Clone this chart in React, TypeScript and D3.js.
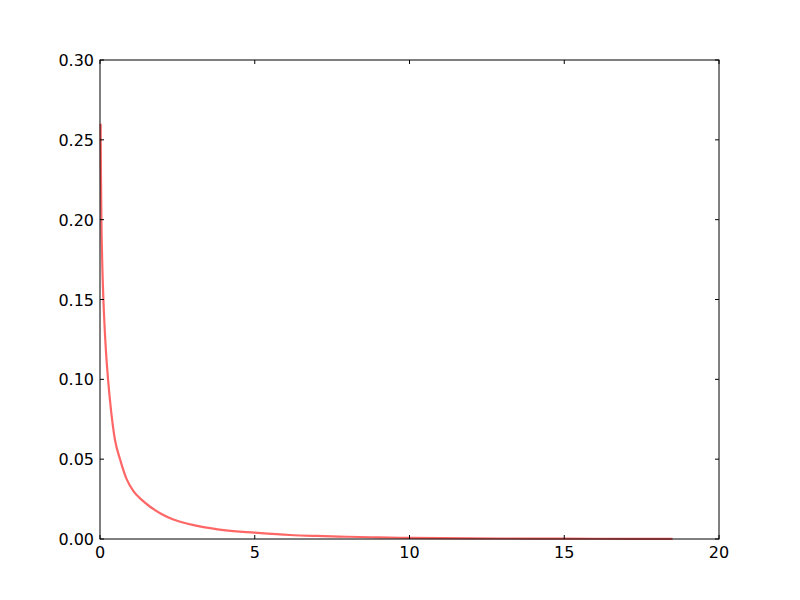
import React from "react";
import * as d3 from "d3";

const xs = [0.02, 0.03, 0.045, 0.07, 0.11, 0.17, 0.26, 0.36, 0.485, 0.646, 0.85, 1.08, 1.35, 1.62, 2.0, 2.37, 2.8, 3.3, 4.0, 5.0, 6.14, 7.0, 8.0, 9.0, 10, 12, 14, 16, 18.5];
const ys = [0.26, 0.23, 0.2, 0.175, 0.15, 0.125, 0.1, 0.08, 0.062, 0.05, 0.038, 0.030, 0.0245, 0.0202, 0.0155, 0.0122, 0.0097, 0.0076, 0.0056, 0.004, 0.0025, 0.0019, 0.0014, 0.001, 0.0007, 0.0004, 0.00025, 0.00015, 0.0001];
const xTicks = [0, 5, 10, 15, 20];
const yTicks = [0, 0.05, 0.1, 0.15, 0.2, 0.25, 0.3];

const W = 800, H = 600;
const L = 100, R = 719, T = 60, B = 539;

export default function App() {
  const x = d3.scaleLinear().domain([0, 20]).range([L, R]);
  const y = d3.scaleLinear().domain([0, 0.3]).range([B, T]);
  const pts: [number, number][] = xs.map((v, i) => [v, ys[i]]);
  const line = d3.line<[number, number]>().x(d => x(d[0])).y(d => y(d[1])).curve(d3.curveMonotoneX);
  const font = "DejaVu Sans, sans-serif";
  return (
    <svg width={W} height={H} style={{ position: "absolute", left: 0, top: 0, background: "#fff" }}>
      <rect x={0} y={0} width={W} height={H} fill="#fff" />
      <path d={line(pts) || ""} fill="none" stroke="red" strokeOpacity={0.6} strokeWidth={2.2} />
      <rect x={L} y={T} width={R - L} height={B - T} fill="none" stroke="#000" strokeWidth={1} />
      {xTicks.map(t => (
        <g key={"x" + t}>
          <line x1={x(t)} x2={x(t)} y1={B} y2={B - 4} stroke="#000" />
          <line x1={x(t)} x2={x(t)} y1={T} y2={T + 4} stroke="#000" />
          <text x={x(t)} y={B + 18.5} textAnchor="middle" fontFamily={font} fontSize={16}>{t}</text>
        </g>
      ))}
      {yTicks.map(t => (
        <g key={"y" + t}>
          <line x1={L} x2={L + 4} y1={y(t)} y2={y(t)} stroke="#000" />
          <line x1={R} x2={R - 4} y1={y(t)} y2={y(t)} stroke="#000" />
          <text x={L - 6} y={y(t) + 6} textAnchor="end" fontFamily={font} fontSize={16}>{t.toFixed(2)}</text>
        </g>
      ))}
    </svg>
  );
}
